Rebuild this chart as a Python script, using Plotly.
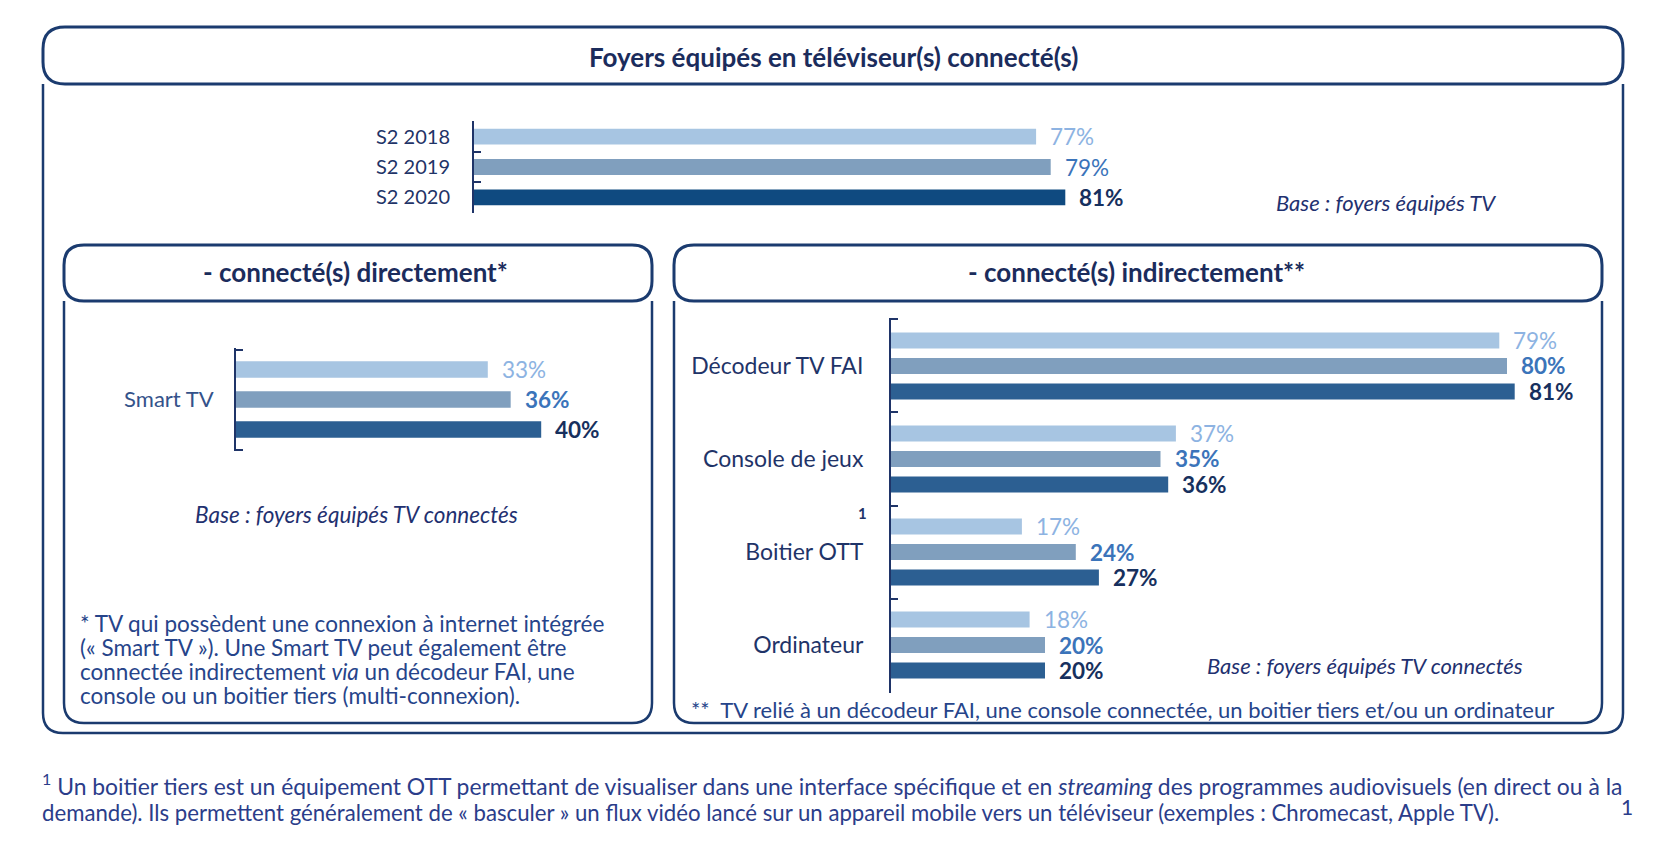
import plotly.graph_objects as go

# ---------------- data ----------------
top_cats = ["S2 2018", "S2 2019", "S2 2020"]
top_vals = [77, 79, 81]

direct_cats = ["Smart TV"]
direct_2018 = [33]
direct_2019 = [36]
direct_2020 = [40]

indirect_cats = ["Décodeur TV FAI", "Console de jeux", "Boitier OTT", "Ordinateur"]
indirect_2018 = [79, 37, 17, 18]
indirect_2019 = [80, 35, 24, 20]
indirect_2020 = [81, 36, 27, 20]

# ---------------- style ----------------
W, H = 1654, 849
SX, SY = 7, 8
FONT = "Lato"
NAVY = "#1F3468"
FRAME = "#1B3B6F"
TITLE_C = "#1B2C5C"
BAR_C = ["#A7C5E2", "#809FBE", "#2C5F92"]
TOP_BAR_C = ["#A7C5E2", "#809FBE", "#0F4A80"]
LAB_C = ["#8DB3E2", "#3B74BA", "#17305E"]
NOTE_C = "#2B3D8A"
BASE_C = "#1F3170"
EPS = 0.015


def fx(x):
    return (x - SX) / W


def fy(y):
    return 1 - (y - SY) / H


def pt(x, y):
    return f"{fx(x):.5f},{fy(y):.5f}"


def rrect(x0, y0, x1, y1, r):
    return (f"M {pt(x0 + r, y0)} L {pt(x1 - r, y0)} Q {pt(x1, y0)} {pt(x1, y0 + r)} "
            f"L {pt(x1, y1 - r)} Q {pt(x1, y1)} {pt(x1 - r, y1)} "
            f"L {pt(x0 + r, y1)} Q {pt(x0, y1)} {pt(x0, y1 - r)} "
            f"L {pt(x0, y0 + r)} Q {pt(x0, y0)} {pt(x0 + r, y0)} Z")


def ubody(x0, y0, x1, y1, r):
    return (f"M {pt(x0, y0)} L {pt(x0, y1 - r)} Q {pt(x0, y1)} {pt(x0 + r, y1)} "
            f"L {pt(x1 - r, y1)} Q {pt(x1, y1)} {pt(x1, y1 - r)} L {pt(x1, y0)}")


fig = go.Figure()

# ---- top chart (single series, one bar per year) ----
fig.add_trace(go.Bar(
    y=top_cats, x=top_vals, orientation="h",
    marker=dict(color=TOP_BAR_C, line=dict(width=0)),
    width=0.52, offset=-0.26,
    xaxis="x", yaxis="y", hoverinfo="skip",
))


def add_group(cats, series, xa, ya, step, width):
    for i, vals in enumerate(series):
        fig.add_trace(go.Bar(
            y=cats, x=vals, orientation="h",
            marker=dict(color=BAR_C[i], line=dict(width=0)),
            width=width, offset=(i - 1) * step - width / 2,
            xaxis=xa, yaxis=ya, hoverinfo="skip",
        ))


DIR_STEP, DIR_W = 0.30, 0.165
IND_STEP, IND_W = 0.274, 0.172
add_group(direct_cats, [direct_2018, direct_2019, direct_2020], "x2", "y2", DIR_STEP, DIR_W)
add_group(indirect_cats, [indirect_2018, indirect_2019, indirect_2020], "x3", "y3", IND_STEP, IND_W)

annotations = []
VAL_SIZE = 22.5

for j, v in enumerate(top_vals):
    f = dict(family=FONT, size=VAL_SIZE, color=LAB_C[j])
    if j == 2:
        f["weight"] = "bold"
    annotations.append(dict(
        x=v, y=j, xref="x", yref="y", text=f"{v}%", showarrow=False,
        xanchor="left", yanchor="middle", xshift=12, font=f,
    ))


def group_labels(cats, series, xa, ya, step):
    for i, vals in enumerate(series):
        for j, v in enumerate(vals):
            f = dict(family=FONT, size=VAL_SIZE, color=LAB_C[i])
            if i > 0:
                f["weight"] = "bold"
            annotations.append(dict(
                x=v, y=j + (i - 1) * step, xref=xa, yref=ya, text=f"{v}%",
                showarrow=False, xanchor="left", yanchor="middle", xshift=12, font=f,
            ))


group_labels(direct_cats, [direct_2018, direct_2019, direct_2020], "x2", "y2", DIR_STEP)
group_labels(indirect_cats, [indirect_2018, indirect_2019, indirect_2020], "x3", "y3", IND_STEP)


def txt(x, y, text, size, color, xanchor="left", bold=False, italic=False):
    f = dict(family=FONT, size=size, color=color)
    if bold:
        f["weight"] = "bold"
    if italic:
        f["style"] = "italic"
    annotations.append(dict(
        x=fx(x), y=fy(y), xref="paper", yref="paper",
        text=text, showarrow=False, xanchor=xanchor, yanchor="middle", font=f,
    ))


# titles
txt(832, 57, "Foyers équipés en téléviseur(s) connecté(s)", 26, TITLE_C, "center", bold=True)
txt(354, 272, "- connecté(s) directement*", 26, TITLE_C, "center", bold=True)
txt(1135, 272, "- connecté(s) indirectement**", 26, TITLE_C, "center", bold=True)

# bases
txt(1273, 203, "Base : foyers équipés TV", 22, BASE_C, italic=True)
txt(355, 514, "Base : foyers équipés TV connectés", 22.5, BASE_C, "center", italic=True)
txt(1204, 665, "Base : foyers équipés TV connectés", 22, BASE_C, italic=True)

# footnote marker
txt(862, 513, "1", 15, NAVY, "center", bold=True)

# left footnote
left_note = [
    "* TV qui possèdent une connexion à internet intégrée",
    "(« Smart TV »). Une Smart TV peut également être",
    "connectée indirectement <i>via</i> un décodeur FAI, une",
    "console ou un boitier tiers (multi-connexion).",
]
for k, line in enumerate(left_note):
    txt(77, 623 + 24 * k, line, 22.5, "#26448A")

txt(688, 709, "**  TV relié à un décodeur FAI, une console connectée, un boitier tiers et/ou un ordinateur",
    22, "#26448A")

# bottom footnote
txt(38.5, 784, "<sup>1</sup> Un boitier tiers est un équipement OTT permettant de visualiser dans une interface "
    "spécifique et en <i>streaming</i> des programmes audiovisuels (en direct ou à la", 22.9, NOTE_C)
txt(38.5, 812, "demande). Ils permettent généralement de « basculer » un flux vidéo lancé sur un appareil "
    "mobile vers un téléviseur (exemples : Chromecast, Apple TV).", 22.2, NOTE_C)
txt(1634, 806, "1", 21, NOTE_C, xanchor="right")

# frames
shapes = []
for path, lw in [
    (rrect(42, 27, 1622, 84, 22), 3),
    (ubody(42, 84, 1622, 733, 20), 2.5),
    (rrect(63, 245, 651, 301, 20), 3),
    (ubody(63, 301, 651, 723, 20), 2.5),
    (rrect(673, 245, 1601, 301, 20), 3),
    (ubody(673, 301, 1601, 723, 20), 2.5),
]:
    shapes.append(dict(type="path", path=path, xref="paper", yref="paper",
                       line=dict(color=FRAME, width=lw), layer="below"))


def yax(dom_top, dom_bot, n, size, standoff, color=NAVY):
    return dict(
        domain=[fy(dom_bot), fy(dom_top)], type="category",
        range=[n - 0.5 + EPS, -0.5 - EPS],
        showline=True, linecolor=NAVY, linewidth=2,
        ticks="inside", tickson="boundaries", ticklen=7, tickcolor=NAVY, tickwidth=2,
        tickfont=dict(family=FONT, size=size, color=color),
        ticklabelstandoff=standoff, showgrid=False, zeroline=False, fixedrange=True,
    )


def xax(x0, pxper, rmax, anchor):
    return dict(domain=[fx(x0), fx(x0 + pxper * rmax)], range=[0, rmax],
                visible=False, fixedrange=True, anchor=anchor)


fig.update_layout(
    width=W, height=H, margin=dict(l=0, r=0, t=0, b=0),
    paper_bgcolor="white", plot_bgcolor="rgba(0,0,0,0)",
    showlegend=False, barmode="overlay",
    xaxis=xax(473, 7.3, 100, "y"),
    yaxis=dict(yax(121, 213, 3, 20, 18), anchor="x"),
    xaxis2=xax(235, 7.63, 50, "y2"),
    yaxis2=dict(yax(348, 451, 1, 22, 16, "#34528A"), anchor="x2"),
    xaxis3=xax(890, 7.7, 90, "y3"),
    yaxis3=dict(yax(318, 693, 4, 23, 21), anchor="x3"),
    annotations=annotations, shapes=shapes,
)

fig.write_html("out.html")
